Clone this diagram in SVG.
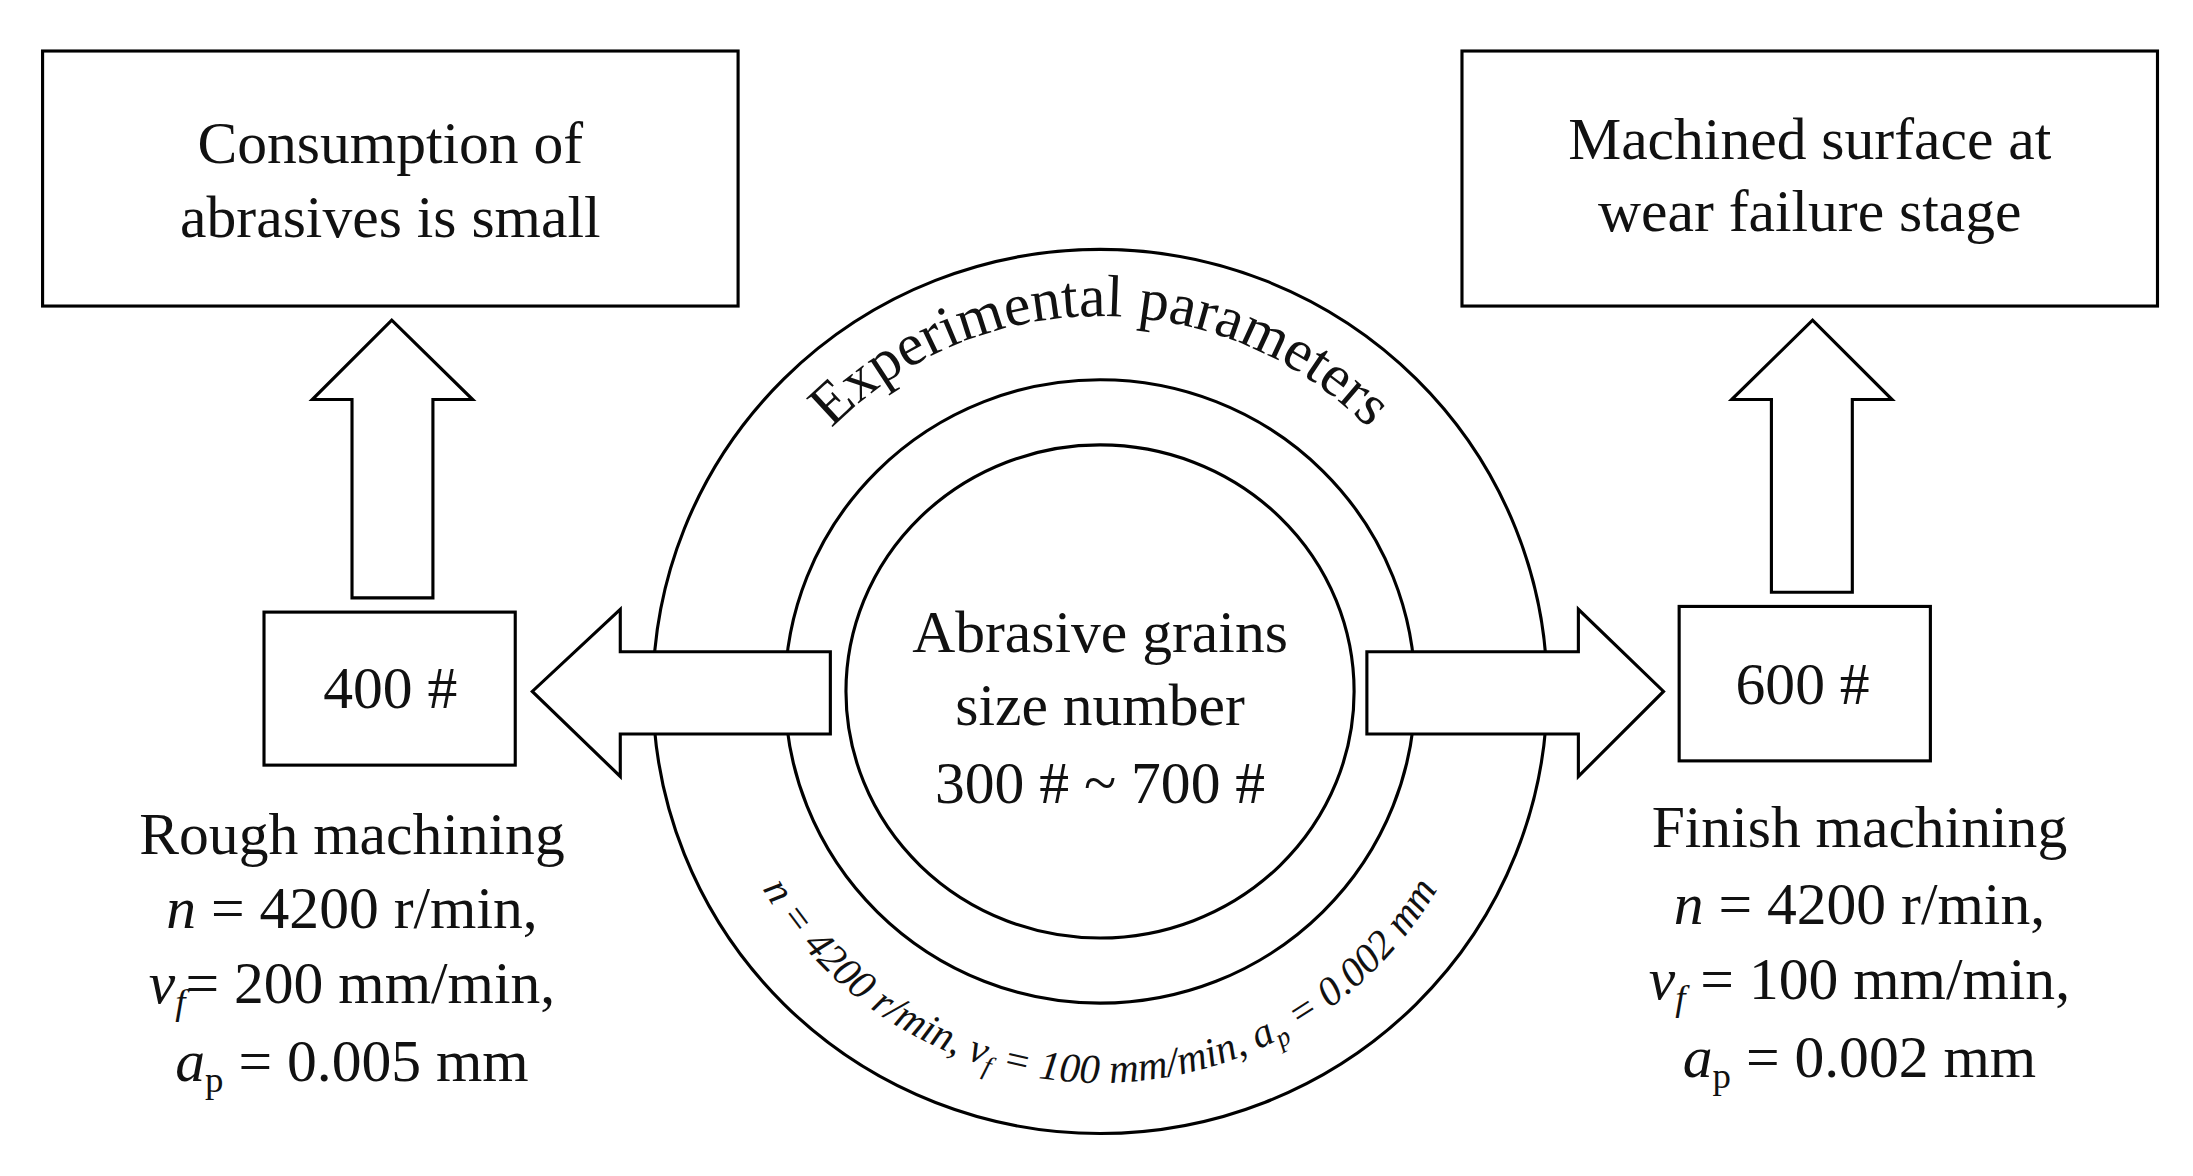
<svg xmlns="http://www.w3.org/2000/svg" width="2193" height="1176" viewBox="0 0 2193 1176">
<style>
.b{fill:#fff;stroke:#000;stroke-width:2.2}
.l{fill:none;stroke:#000;stroke-width:2.2}
text{font-family:"Liberation Serif","DejaVu Serif",serif;fill:#111;font-size:42px;text-anchor:middle}
.s{font-size:29px}
</style>
<defs>
<path id="top" d="M 558 336 A 265 265 0 0 1 992 336"/>
<path id="bot" d="M 509 559 A 275 275 0 0 0 1041 559"/>
</defs>
<rect width="2193" height="1176" fill="#fff"/>
<g transform="scale(1.4194,1.4169)">
<g id="rings">
<ellipse class="l" cx="775" cy="488" rx="315" ry="312"/>
<ellipse class="l" cx="775" cy="488" rx="222" ry="220"/>
<ellipse class="l" cx="775" cy="488" rx="179" ry="174"/>
<text><textPath href="#top" startOffset="50%">Experimental parameters</textPath></text>
<text class="s" font-style="italic"><textPath href="#bot" startOffset="50%">n = 4200 r/min, v<tspan font-size="19" dy="6">f</tspan><tspan dy="-6"> = 100 mm/min, a</tspan><tspan font-size="19" dy="6">p</tspan><tspan dy="-6"> = 0.002 mm</tspan></textPath></text>
<text x="775" y="460">Abrasive grains</text>
<text x="775" y="512">size number</text>
<text x="775" y="567">300 # ~ 700 #</text>
</g>
<g id="connectors">
<path class="b" d="M248 422 V282 H220 L276 226 L333 282 H305 V422 Z"/>
<path class="b" d="M1248 418 V282 H1220 L1277 226 L1333 282 H1305 V418 Z"/>
<path class="b" d="M585 460 H437 V430 L375 488 L437 548 V518 H585 Z"/>
<path class="b" d="M963 460 H1112 V430 L1172 488 L1112 548 V518 H963 Z"/>
</g>
<g id="box1"><rect class="b" x="30" y="36" width="490" height="180"/>
<text x="275" y="115">Consumption of</text><text x="275" y="167">abrasives is small</text></g>
<g id="box2"><rect class="b" x="1030" y="36" width="490" height="180"/>
<text x="1275" y="112">Machined surface at</text><text x="1275" y="163">wear failure stage</text></g>
<g id="n400"><rect class="b" x="186" y="432" width="177" height="108"/><text x="275" y="500">400 #</text></g>
<g id="n600"><rect class="b" x="1183" y="428" width="177" height="109"/><text x="1270" y="497">600 #</text></g>
<g id="rough">
<text x="248" y="603">Rough  machining</text>
<text x="248" y="655"><tspan font-style="italic">n</tspan> = 4200 r/min,</text>
<text x="248" y="708"><tspan font-style="italic">v</tspan><tspan font-style="italic" font-size="26" dy="8">f</tspan><tspan dy="-8">= 200 mm/min,</tspan></text>
<text x="248" y="763"><tspan font-style="italic">a</tspan><tspan font-size="26" dy="8">p</tspan><tspan dy="-8"> = 0.005 mm</tspan></text>
</g>
<g id="finish">
<text x="1310" y="598">Finish machining</text>
<text x="1310" y="652"><tspan font-style="italic">n</tspan> = 4200 r/min,</text>
<text x="1310" y="705"><tspan font-style="italic">v</tspan><tspan font-style="italic" font-size="26" dy="8">f</tspan><tspan dy="-8"> = 100 mm/min,</tspan></text>
<text x="1310" y="760"><tspan font-style="italic">a</tspan><tspan font-size="26" dy="8">p</tspan><tspan dy="-8"> = 0.002 mm</tspan></text>
</g>
</g>
</svg>
